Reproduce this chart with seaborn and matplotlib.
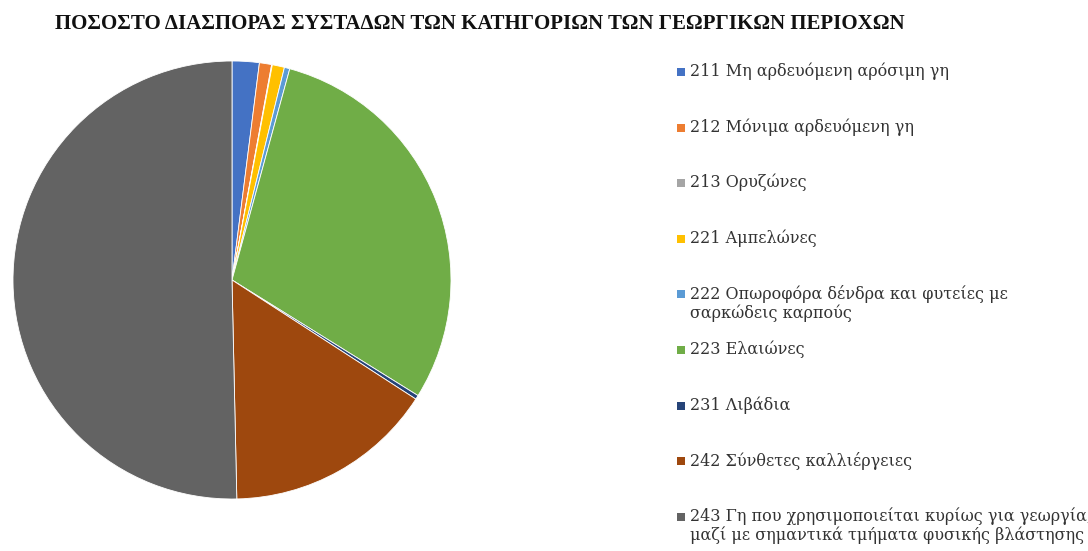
import matplotlib
matplotlib.use("Agg")
import matplotlib.pyplot as plt
import seaborn as sns
from matplotlib.patches import Rectangle

# category codes / labels and share (%)
categories = [
    "211 Μη αρδευόμενη αρόσιμη γη",
    "212 Μόνιμα αρδευόμενη γη",
    "213 Ορυζώνες",
    "221 Αμπελώνες",
    "222 Οπωροφόρα δένδρα και φυτείες με\nσαρκώδεις καρπούς",
    "223 Ελαιώνες",
    "231 Λιβάδια",
    "242 Σύνθετες καλλιέργειες",
    "243 Γη που χρησιμοποιείται κυρίως για γεωργία,\nμαζί με σημαντικά τμήματα φυσικής βλάστησης",
]
shares = [2.0, 0.9, 0.05, 0.9, 0.4, 29.6, 0.3, 15.5, 50.35]
colors = ["#4472C4", "#ED7D31", "#A5A5A5", "#FFC000", "#5B9BD5",
          "#70AD47", "#264478", "#9E480E", "#636363"]

title = "ΠΟΣΟΣΤΟ ΔΙΑΣΠΟΡΑΣ ΣΥΣΤΑΔΩΝ ΤΩΝ ΚΑΤΗΓΟΡΙΩΝ ΤΩΝ ΓΕΩΡΓΙΚΩΝ ΠΕΡΙΟΧΩΝ"

sns.set_theme(style="white")
plt.rcParams['font.family'] = ['DejaVu Serif', 'DejaVu Sans']

W, H = 1088, 551
fig = plt.figure(figsize=(W / 100, H / 100), dpi=100)

# pie area: centre (232, 280) px, radius 219 px
cx, cy, r = 232, 280, 219
ax = fig.add_axes([(cx - r) / W, (H - cy - r) / H, 2 * r / W, 2 * r / H])
ax.pie(shares, colors=colors, startangle=90, counterclock=False,
       wedgeprops=dict(edgecolor="white", linewidth=0.6))
ax.set_xlim(-1, 1)
ax.set_ylim(-1, 1)
ax.set_aspect("equal")
ax.axis("off")

fig.text(55 / W, 1 - 24 / H, title, ha="left", va="center",
         fontsize=15, fontweight="bold", family="Liberation Serif", color="#111111")

# legend drawn by hand so the square sits on the first line of each entry
y0, step = 72, 55.6
for i, (lab, col) in enumerate(zip(categories, colors)):
    y = y0 + i * step
    fig.patches.append(Rectangle((677 / W, 1 - (y + 4) / H), 8 / W, 8 / H,
                                 transform=fig.transFigure, facecolor=col, edgecolor="none"))
    fig.text(690 / W, 1 - (y - 9.5) / H, lab, ha="left", va="top",
             fontsize=11.5, color="#333333", linespacing=1.12)

fig.savefig("out.png", dpi=100)
